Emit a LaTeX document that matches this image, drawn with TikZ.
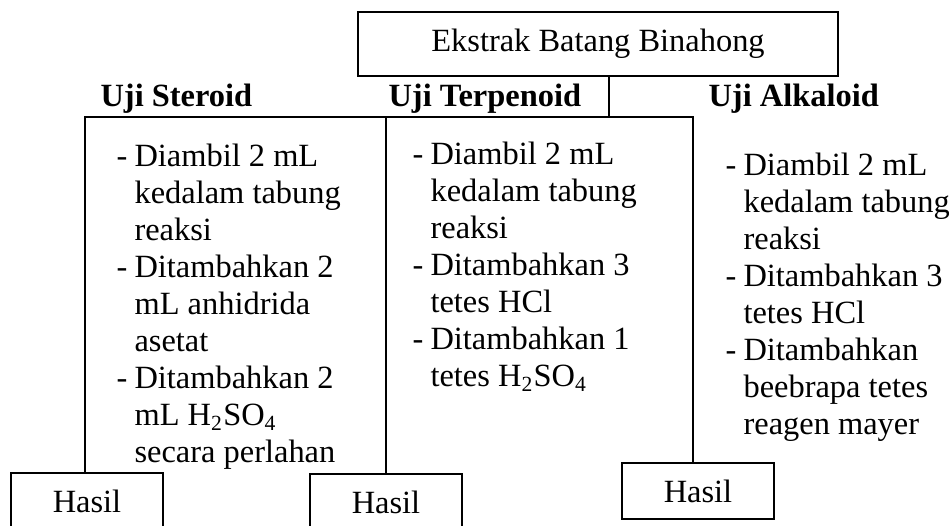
\documentclass[tikz,border=0pt]{standalone}
\usepackage{fontspec}
\setmainfont{Liberation Serif}
\usepackage{tikz}
\newlength\pxu
\setlength\pxu{0.37pt}
\newcommand\dsh{\makebox[18\pxu][l]{-}}
\newcommand\ind{\hspace*{18\pxu}}

\begin{document}
\begin{tikzpicture}[x=0.37pt,y=-0.37pt,
  font=\fontsize{12}{13.7}\selectfont,
  kotak/.style={draw,line width=0.5pt,inner sep=0pt,
                minimum width=152\pxu,minimum height=56\pxu},
  judul/.style={font=\fontsize{12}{13.7}\selectfont\bfseries,anchor=base west,inner sep=0pt},
  langkah/.style={anchor=north west,align=left,inner sep=0pt},
  garis/.style={line width=0.5pt}]
\useasboundingbox (0,0) rectangle (949,525);
\clip (0,0) rectangle (949,525);
\node[kotak,minimum width=480\pxu,minimum height=64\pxu] (ekstrak) at (598,44) {Ekstrak Batang Binahong};
\node[judul] (ujiS) at (100,107) {Uji Steroid};
\node[judul] (ujiT) at (388,107) {Uji Terpenoid};
\node[judul] (ujiA) at (708,107) {Uji Alkaloid};
% langkah tiap uji
\node[langkah] (langkahS) at (116,143) {%
  \dsh Diambil 2 mL\\ \ind kedalam tabung\\ \ind reaksi\\
  \dsh Ditambahkan 2\\ \ind mL anhidrida\\ \ind asetat\\
  \dsh Ditambahkan 2\\ \ind mL H\textsubscript{2}SO\textsubscript{4}\\ \ind secara perlahan};
\node[langkah] (langkahT) at (412,141) {%
  \dsh Diambil 2 mL\\ \ind kedalam tabung\\ \ind reaksi\\
  \dsh Ditambahkan 3\\ \ind tetes HCl\\
  \dsh Ditambahkan 1\\ \ind tetes H\textsubscript{2}SO\textsubscript{4}};
\node[langkah] (langkahA) at (725,152) {%
  \dsh Diambil 2 mL\\ \ind kedalam tabung\\ \ind reaksi\\
  \dsh Ditambahkan 3\\ \ind tetes HCl\\
  \dsh Ditambahkan\\ \ind beebrapa tetes\\ \ind reagen mayer};
\node[kotak] (hasilS) at (87,501) {Hasil};
\node[kotak] (hasilT) at (386,502) {Hasil};
\node[kotak] (hasilA) at (698,491) {Hasil};
% garis cabang
\coordinate (cE) at (609,117);
\coordinate (cS) at (85,117);
\coordinate (cT) at (386,117);
\coordinate (cA) at (693,117);
\draw[garis] (ekstrak.south -| cE) -- (cE);
\draw[garis] (hasilS.north -| cS) -- (cS) -- (cA) -- (hasilA.north -| cA);
\draw[garis] (cT) -- (hasilT.north -| cT);
\end{tikzpicture}
\end{document}
